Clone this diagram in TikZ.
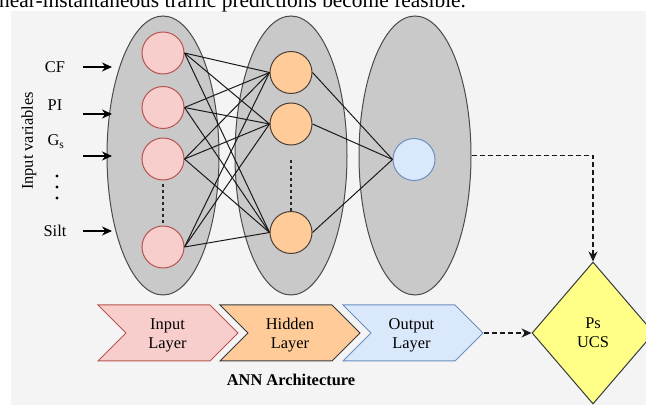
\documentclass[tikz,border=0pt]{standalone}
\usepackage{fontspec}
\setmainfont{Liberation Serif}
\usetikzlibrary{arrows.meta,shapes.geometric}

\definecolor{panelbg}{HTML}{F4F4F4}
\definecolor{layerfill}{HTML}{C9C9C9}
\definecolor{layerline}{HTML}{4A4A4A}
\definecolor{pinkfill}{HTML}{F8CECC}
\definecolor{pinkline}{HTML}{B85450}
\definecolor{orangefill}{HTML}{FFCC99}
\definecolor{orangeline}{HTML}{4A4038}
\definecolor{bluefill}{HTML}{DAE8FC}
\definecolor{blueline}{HTML}{6C8EBF}
\definecolor{yellowfill}{HTML}{FFFF88}
\definecolor{darkline}{HTML}{36393D}
\definecolor{linkcol}{HTML}{1A1A1A}

\begin{document}
\begin{tikzpicture}[x=1pt,y=-1pt,
  layerbox/.style={ellipse, draw=layerline, fill=layerfill, line width=1pt,
    minimum width=112pt, minimum height=279pt, inner sep=0pt},
  neuron/.style={circle, minimum size=42pt, inner sep=0pt, line width=1pt},
  innode/.style={neuron, fill=pinkfill, draw=pinkline},
  hidnode/.style={neuron, fill=orangefill, draw=orangeline},
  outnode/.style={neuron, fill=bluefill, draw=blueline},
  link/.style={draw=linkcol, line width=1pt},
  gapline/.style={draw=black!85, line width=1.3pt, dash pattern=on 3pt off 3pt},
  lbl/.style={font=\fontsize{16.4}{19}\selectfont, inner sep=0pt, align=center},
  feed/.style={-{Stealth[length=10pt,width=9pt]}, line width=1.1pt},
  flow/.style={line width=1.3pt, dash pattern=on 5pt off 3pt, draw=black!90,
    -{Stealth[length=10pt,width=9pt]}},
  chev/.style={line width=1pt, line join=miter}
]
\useasboundingbox (0,0) rectangle (646,406);
\clip (0,0) rectangle (646,406);

% page background and grey panel
\fill[white] (0,0) rectangle (646,406);
\fill[panelbg] (11,11) rectangle (650,405);

% running text above the figure
\node[anchor=base west, inner sep=0pt, font=\fontsize{21.4}{24}\selectfont]
  (caption) at (-1,7.5) {near-instantaneous traffic predictions become feasible.};

% layer ellipses
\node[layerbox] (inlayer)  at (163,155.5) {};
\node[layerbox] (hidlayer) at (291,155.5) {};
\node[layerbox] (outlayer) at (415,155.5) {};

% neurons
\node[innode] (i1) at (163,53) {};
\node[innode] (i2) at (163,107.5) {};
\node[innode] (i3) at (163,159) {};
\node[innode] (i4) at (163,247) {};

\node[hidnode] (h1) at (291,72.5) {};
\node[hidnode] (h2) at (291,124) {};
\node[hidnode] (h3) at (291,232.5) {};

\node[outnode] (o1) at (414,159.5) {};

% weights
\foreach \i in {1,...,4}
  \foreach \j in {1,2,3}
    \draw[link] (i\i.east) -- (h\j.west);
\foreach \j in {1,2,3}
  \draw[link] (h\j.east) -- (o1.west);

% omitted neurons
\draw[gapline] (i3.south) ++(0,4) coordinate (ig1) -- (i4.north) ++(0,-4);
\draw[gapline] (h2.south) ++(0,15) coordinate (hg1) -- (h3.north) ++(0,-13);

% input variables
\node[lbl, anchor=base] (cf)   at (55,73)  {CF};
\node[lbl, anchor=base] (pi)   at (55,111) {PI};
\node[lbl, anchor=base] (gs)   at (56,146) {G\textsubscript{s}};
\node[lbl, anchor=base] (silt) at (55,237) {Silt};
\foreach \yy in {176,187,198}
  \fill (57,\yy) circle (1.6pt);
\node[lbl, rotate=90] (invars) at (29,141) {Input variables};

\coordinate (cfs) at (83,67);    \coordinate (cft) at (112,67);
\coordinate (pis) at (83,114);   \coordinate (pit) at (112,114);
\coordinate (gss) at (83,156);   \coordinate (gst) at (112,156);
\coordinate (sis) at (83,231);   \coordinate (sit) at (112,231);
\draw[feed] (cfs) -- (cft);
\draw[feed] (pis) -- (pit);
\draw[feed] (gss) -- (gst);
\draw[feed] (sis) -- (sit);

% architecture chevrons
\draw[chev, fill=pinkfill, draw=pinkline]
  (98,305) -- (210,305) -- (238,333) -- (210,361) -- (98,361) -- (126,333) -- cycle;
\draw[chev, fill=orangefill, draw=darkline]
  (220,305) -- (332,305) -- (360,333) -- (332,361) -- (220,361) -- (248,333) -- cycle;
\draw[chev, fill=bluefill, draw=blueline]
  (343,305) -- (455,305) -- (483,333) -- (455,361) -- (343,361) -- (371,333) -- cycle;
\coordinate (otip) at (484,333);

\node[lbl] (inlbl)  at (167.5,335.5) {Input\\Layer};
\node[lbl] (hidlbl) at (290,335.5)   {Hidden\\Layer};
\node[lbl] (outlbl) at (411.5,335.5) {Output\\Layer};

\node[lbl, anchor=base, font=\fontsize{16.4}{19}\selectfont\bfseries] (arch)
  at (291,385) {ANN Architecture};

% prediction target
\node[lbl, diamond, draw=darkline, fill=yellowfill, line width=1pt,
  minimum width=122pt, minimum height=142pt] (ps) at (593,333) {Ps\\UCS};

% output connectors
\draw[flow] (outlayer.east) -| (ps.north);
\draw[flow] (otip) -- (ps.west);
\end{tikzpicture}
\end{document}
